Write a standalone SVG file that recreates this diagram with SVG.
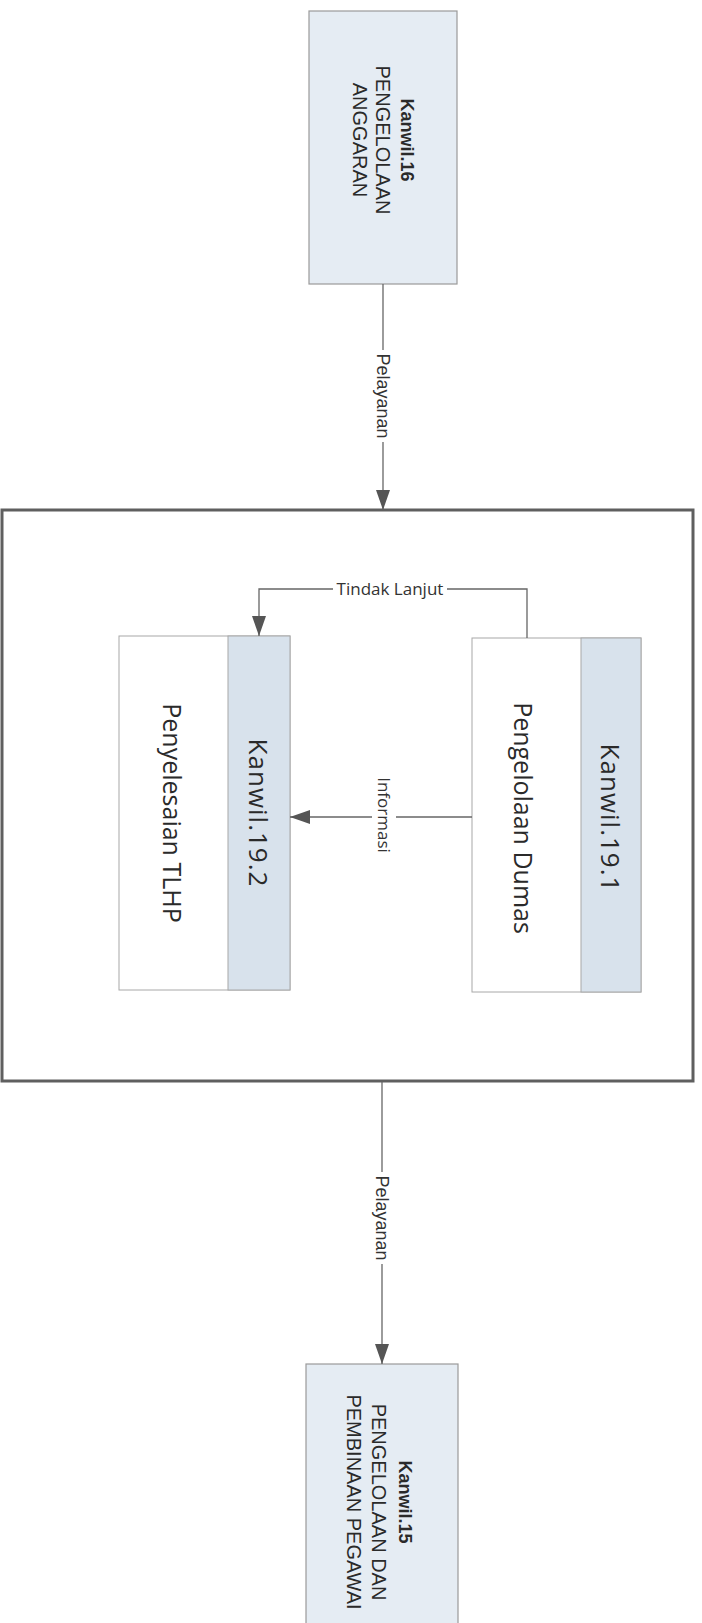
<svg xmlns="http://www.w3.org/2000/svg" width="702" height="1623" viewBox="0 0 702 1623">
<defs>
<marker id="arr" markerUnits="userSpaceOnUse" markerWidth="20" markerHeight="14" refX="20" refY="7" orient="auto">
<path d="M0,0 L20,7 L0,14 z" fill="#555"/>
</marker>
</defs>
<style>
.ext{fill:#e5ecf3;stroke:#9a9a9a;stroke-width:1.2}
.frame{fill:#fff;stroke:#5f5f5f;stroke-width:3}
.body{fill:#fff;stroke:#a8a8a8;stroke-width:1}
.strip{fill:#d8e2ec;stroke:#a8a8a8;stroke-width:1}
.conn{fill:none;stroke:#666;stroke-width:1.3}
.ta{font-family:"Liberation Sans",Arial,sans-serif;font-size:20px;fill:#2a2a2a;text-anchor:middle;dominant-baseline:central}
.tb{font-family:"Liberation Sans",Arial,sans-serif;font-size:18px;font-weight:bold;fill:#2a2a2a;text-anchor:middle;dominant-baseline:central}
.tin{font-family:"Open Sans","Noto Sans",sans-serif;font-size:25px;fill:#2a2a2a;text-anchor:middle;dominant-baseline:central}
.tk{font-family:"Open Sans","Noto Sans",sans-serif;font-size:26px;letter-spacing:1px;fill:#2a2a2a;text-anchor:middle;dominant-baseline:central}
.lbl{font-family:"Liberation Sans",Arial,sans-serif;font-size:18px;fill:#333;text-anchor:middle;dominant-baseline:central}
.lbl2{font-family:"Open Sans","Noto Sans",sans-serif;font-size:17px;fill:#333;text-anchor:middle;dominant-baseline:central}
</style>
<rect width="702" height="1623" fill="#fff"/>

<g id="container">
<rect class="frame" x="2" y="510" width="691" height="571"/>
</g>

<g id="kanwil16">
<rect class="ext" x="309" y="11" width="148" height="273"/>
<g transform="translate(383,140) rotate(90)">
<text class="tb" x="0" y="-24">Kanwil.16</text>
<text class="ta" x="0" y="0">PENGELOLAAN</text>
<text class="ta" x="0" y="23">ANGGARAN</text>
</g>
</g>

<g id="kanwil15">
<rect class="ext" x="306" y="1364" width="152" height="270"/>
<g transform="translate(380,1502) rotate(90)">
<text class="tb" x="0" y="-25">Kanwil.15</text>
<text class="ta" x="0" y="1">PENGELOLAAN DAN</text>
<text class="ta" x="0" y="26">PEMBINAAN PEGAWAI</text>
</g>
</g>

<g id="kanwil192">
<rect class="body" x="119" y="636" width="171" height="354"/>
<rect class="strip" x="228" y="636" width="62" height="354"/>
<text class="tk" transform="translate(259,813) rotate(90)">Kanwil.19.2</text>
<text class="tin" transform="translate(173,813) rotate(90)">Penyelesaian TLHP</text>
</g>

<g id="kanwil191">
<rect class="body" x="472" y="638" width="169" height="354"/>
<rect class="strip" x="581" y="638" width="60" height="354"/>
<text class="tk" transform="translate(611,818) rotate(90)">Kanwil.19.1</text>
<text class="tin" transform="translate(524,818) rotate(90)">Pengelolaan Dumas</text>
</g>

<g id="connectors">
<path class="conn" d="M383,284 V510" marker-end="url(#arr)"/>
<rect x="373" y="350" width="20" height="92" fill="#fff"/>
<text class="lbl" transform="translate(383,396) rotate(90)">Pelayanan</text>

<path class="conn" d="M382,1082 V1364" marker-end="url(#arr)"/>
<rect x="372" y="1172" width="20" height="92" fill="#fff"/>
<text class="lbl" transform="translate(382,1218) rotate(90)">Pelayanan</text>

<path class="conn" d="M527,638 V589 H259 V636" marker-end="url(#arr)"/>
<rect x="333" y="578" width="114" height="22" fill="#fff"/>
<text class="lbl2" x="390" y="588">Tindak Lanjut</text>

<path class="conn" d="M472,817 H290" marker-end="url(#arr)"/>
<rect x="372" y="775" width="24" height="84" fill="#fff"/>
<text class="lbl2" transform="translate(384,815) rotate(90)">Informasi</text>
</g>
</svg>
